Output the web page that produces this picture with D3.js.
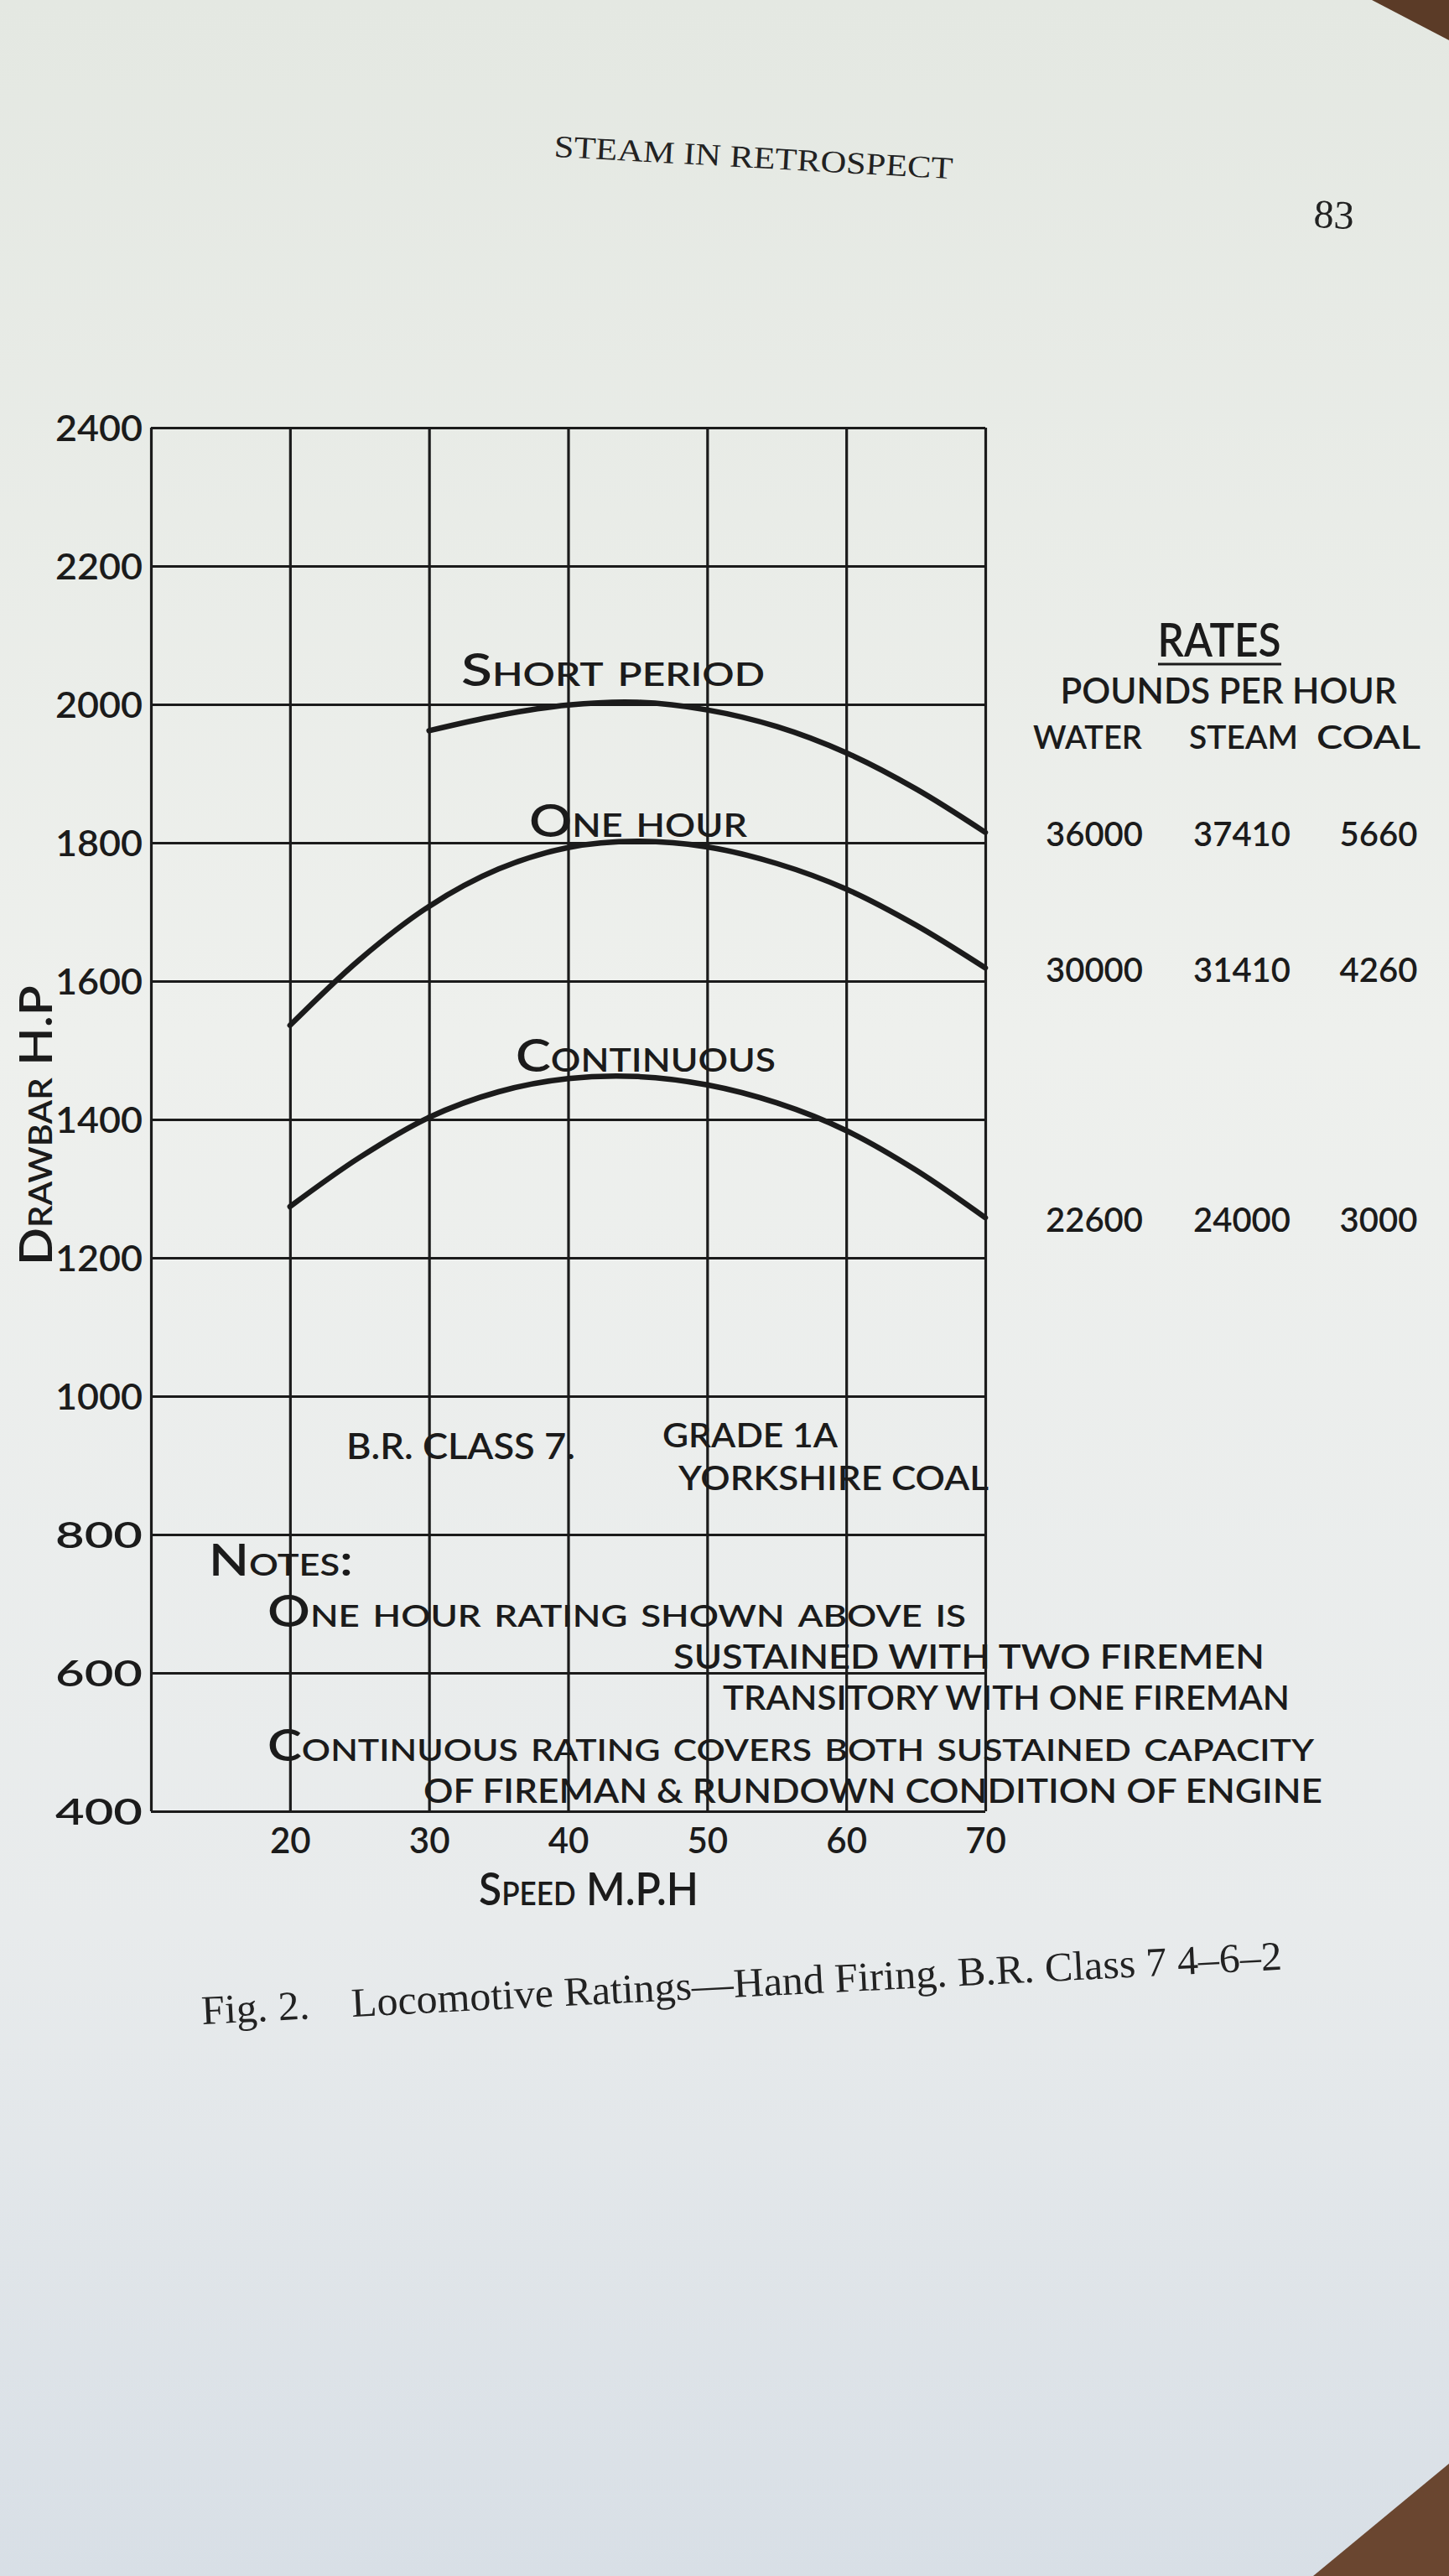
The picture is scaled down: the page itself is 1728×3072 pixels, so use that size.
<!DOCTYPE html>
<html>
<head>
<meta charset="utf-8">
<script src="https://cdn.jsdelivr.net/npm/d3@7"></script>
<style>
html,body{margin:0;padding:0;background:#eceeeb;}
svg{display:block;}
.ink{fill:#1b1b1b;font-family:Lato,"Open Sans",sans-serif;font-weight:600;}
.sc{font-variant:small-caps;}
.serif{fill:#222;font-family:"Liberation Serif","DejaVu Serif",serif;}
</style>
</head>
<body>
<svg id="chart" width="1728" height="3072"></svg>
<script>
// ---------------- data ----------------
const speedTicks = [20, 30, 40, 50, 60, 70];
const hpTicks = [400, 600, 800, 1000, 1200, 1400, 1600, 1800, 2000, 2200, 2400];
const gridSpeeds = [10, 20, 30, 40, 50, 60, 70];

const seriesNames = ["Short period", "One hour", "Continuous"];
const shortPeriodSpeed = [30, 35, 40, 45, 50, 55, 60, 65, 70];
const shortPeriodHP    = [1962, 1984, 1999, 2003, 1992, 1968, 1930, 1878, 1815];
const oneHourSpeed     = [20, 25, 30, 35, 40, 45, 50, 55, 60, 65, 70];
const oneHourHP        = [1536, 1631, 1708, 1762, 1793, 1802, 1794, 1770, 1733, 1681, 1619];
const continuousSpeed  = [20, 25, 30, 35, 40, 45, 50, 55, 60, 65, 70];
const continuousHP     = [1274, 1345, 1403, 1440, 1459, 1462, 1450, 1424, 1384, 1327, 1258];

const rateColumns = ["WATER", "STEAM", "COAL"];
const waterRates = [36000, 30000, 22600];
const steamRates = [37410, 31410, 24000];
const coalRates  = [5660, 4260, 3000];

// ---------------- layout ----------------
const W = 1728, H = 3072;
const plot = {left: 180, right: 1175, top: 510, bottom: 2160};

const svg = d3.select("#chart");

// page background
const defs = svg.append("defs");
const grad = defs.append("linearGradient").attr("id", "page").attr("x1", 0).attr("y1", 0).attr("x2", 0).attr("y2", 1);
grad.append("stop").attr("offset", "0%").attr("stop-color", "#e4e8e2");
grad.append("stop").attr("offset", "40%").attr("stop-color", "#eef0ed");
grad.append("stop").attr("offset", "75%").attr("stop-color", "#e8ebec");
grad.append("stop").attr("offset", "100%").attr("stop-color", "#d8dfe6");
svg.append("rect").attr("width", W).attr("height", H).attr("fill", "url(#page)");
// table (wood) showing in the corners
svg.append("polygon").attr("points", "1636,0 1728,0 1728,48").attr("fill", "#5b3b27");
svg.append("polygon").attr("points", "1728,2938 1728,3072 1566,3072").attr("fill", "#6a4630");

const x = d3.scaleLinear().domain([10, 70]).range([plot.left, plot.right]);
const y = d3.scaleLinear().domain([400, 2400]).range([plot.bottom, plot.top]);

const ink = "#1b1b1b";
const g = svg.append("g");

// grid: horizontal
g.append("g").call(d3.axisLeft(y).tickValues(hpTicks).tickSize(-(plot.right - plot.left)).tickFormat(""))
  .attr("transform", `translate(${plot.left},0)`)
  .call(s => s.select(".domain").remove())
  .call(s => s.selectAll("line").attr("stroke", ink).attr("stroke-width", 3.2));
// grid: vertical
g.append("g").call(d3.axisBottom(x).tickValues(gridSpeeds).tickSize(-(plot.bottom - plot.top)).tickFormat(""))
  .attr("transform", `translate(0,${plot.bottom})`)
  .call(s => s.select(".domain").remove())
  .call(s => s.selectAll("line").attr("stroke", ink).attr("stroke-width", 3.2));

// y tick labels
g.append("g").call(d3.axisLeft(y).tickValues(hpTicks).tickSize(0).tickPadding(10).tickFormat(d3.format("d")))
  .attr("transform", `translate(${plot.left},0)`)
  .call(s => s.select(".domain").remove())
  .call(s => s.selectAll("text").attr("class", "ink").attr("font-size", 42).attr("dy", "0.36em")
      .attr("textLength", 104).attr("lengthAdjust", "spacingAndGlyphs"));

// x tick labels
g.append("g").call(d3.axisBottom(x).tickValues(speedTicks).tickSize(0).tickPadding(18).tickFormat(d3.format("d")))
  .attr("transform", `translate(0,${plot.bottom})`)
  .call(s => s.select(".domain").remove())
  .call(s => s.selectAll("text").attr("class", "ink").attr("font-size", 42).attr("dy", "0.75em"));

// axis titles
g.append("text").attr("class", "ink sc").attr("font-size", 54)
  .attr("x", 702).attr("y", 2272).attr("text-anchor", "middle")
  .attr("textLength", 262).attr("lengthAdjust", "spacingAndGlyphs")
  .text("Speed M.P.H");
g.append("text").attr("class", "ink sc").attr("font-size", 54)
  .attr("transform", "translate(62,1342) rotate(-90)").attr("text-anchor", "middle")
  .attr("textLength", 334).attr("lengthAdjust", "spacingAndGlyphs")
  .text("Drawbar H.P");

// curves
const series = [
  {name: seriesNames[0], sp: shortPeriodSpeed, hp: shortPeriodHP},
  {name: seriesNames[1], sp: oneHourSpeed, hp: oneHourHP},
  {name: seriesNames[2], sp: continuousSpeed, hp: continuousHP}
];
const line = d3.line().x(d => x(d[0])).y(d => y(d[1])).curve(d3.curveCatmullRom.alpha(0.5));
g.selectAll("path.curve").data(series).enter().append("path")
  .attr("class", "curve")
  .attr("d", s => line(d3.zip(s.sp, s.hp)))
  .attr("fill", "none").attr("stroke", ink).attr("stroke-width", 6.5).attr("stroke-linecap", "round");

// curve labels
const curveLabels = [
  {t: "Short period", x: 731, y: 818, w: 362},
  {t: "One hour", x: 761, y: 998, w: 260},
  {t: "Continuous", x: 770, y: 1278, w: 310}
];
g.selectAll("text.cl").data(curveLabels).enter().append("text")
  .attr("class", "ink sc cl").attr("font-size", 54)
  .attr("x", d => d.x).attr("y", d => d.y).attr("text-anchor", "middle")
  .attr("textLength", d => d.w).attr("lengthAdjust", "spacingAndGlyphs")
  .text(d => d.t);

// annotations in plot
const notes = [
  {t: "B.R. CLASS 7.", x: 413, y: 1740, w: 273, s: 42, sc: false},
  {t: "GRADE 1A", x: 790, y: 1726, w: 209, s: 40, sc: false},
  {t: "YORKSHIRE COAL", x: 809, y: 1777, w: 370, s: 40, sc: false},
  {t: "Notes:", x: 249, y: 1879, w: 172, s: 52, sc: true},
  {t: "One hour rating shown above is", x: 319, y: 1940, w: 833, s: 52, sc: true},
  {t: "SUSTAINED WITH TWO FIREMEN", x: 803, y: 1990, w: 705, s: 40, sc: false},
  {t: "TRANSITORY WITH ONE FIREMAN", x: 862, y: 2039, w: 676, s: 40, sc: false},
  {t: "Continuous rating covers both sustained capacity", x: 319, y: 2100, w: 1248, s: 52, sc: true},
  {t: "OF FIREMAN & RUNDOWN CONDITION OF ENGINE", x: 505, y: 2150, w: 1072, s: 40, sc: false}
];
g.selectAll("text.note").data(notes).enter().append("text")
  .attr("class", d => "ink note" + (d.sc ? " sc" : ""))
  .attr("font-size", d => d.s)
  .attr("x", d => d.x).attr("y", d => d.y)
  .attr("textLength", d => d.w).attr("lengthAdjust", "spacingAndGlyphs")
  .text(d => d.t);

// rates table
const colX = [1305, 1481, 1644];
const headX = [1297, 1483, 1632];
const headW = [130, 130, 124];
const tbl = svg.append("g");
tbl.append("text").attr("class", "ink").attr("font-size", 56).attr("x", 1454).attr("y", 783)
  .attr("text-anchor", "middle").attr("textLength", 147).attr("lengthAdjust", "spacingAndGlyphs").text("RATES");
tbl.append("line").attr("x1", 1381).attr("x2", 1528).attr("y1", 792).attr("y2", 792)
  .attr("stroke", ink).attr("stroke-width", 3);
tbl.append("text").attr("class", "ink").attr("font-size", 42).attr("x", 1465).attr("y", 839)
  .attr("text-anchor", "middle").attr("textLength", 401).attr("lengthAdjust", "spacingAndGlyphs").text("POUNDS PER HOUR");
tbl.selectAll("text.head").data(rateColumns).enter().append("text")
  .attr("class", "ink head").attr("font-size", 38)
  .attr("x", (d, i) => headX[i]).attr("y", 893)
  .attr("text-anchor", "middle")
  .attr("textLength", (d, i) => headW[i]).attr("lengthAdjust", "spacingAndGlyphs")
  .text(d => d);

const rateRows = series.map((s, i) => ({
  hpEnd: s.hp[s.hp.length - 1],
  vals: [waterRates[i], steamRates[i], coalRates[i]]
}));
rateRows.forEach(r => {
  tbl.selectAll(null).data(r.vals).enter().append("text")
    .attr("class", "ink").attr("font-size", 40)
    .attr("x", (d, i) => colX[i]).attr("y", y(r.hpEnd) + 2)
    .attr("dy", "0.36em").attr("text-anchor", "middle")
    .text(d => d);
});

// page furniture
svg.append("text").attr("class", "serif").attr("font-size", 37)
  .attr("transform", "translate(898,200) rotate(3.2)").attr("text-anchor", "middle")
  .attr("textLength", 476).attr("lengthAdjust", "spacingAndGlyphs")
  .text("STEAM IN RETROSPECT");
svg.append("text").attr("class", "serif").attr("font-size", 48)
  .attr("transform", "translate(1590,272) rotate(3)").attr("text-anchor", "middle")
  .text("83");
svg.append("text").attr("class", "serif").attr("font-size", 49)
  .attr("transform", "translate(241,2414) rotate(-2.9)")
  .attr("textLength", 1290).attr("lengthAdjust", "spacingAndGlyphs")
  .attr("xml:space", "preserve")
  .text("Fig. 2.    Locomotive Ratings—Hand Firing. B.R. Class 7 4–6–2");
</script>
</body>
</html>
